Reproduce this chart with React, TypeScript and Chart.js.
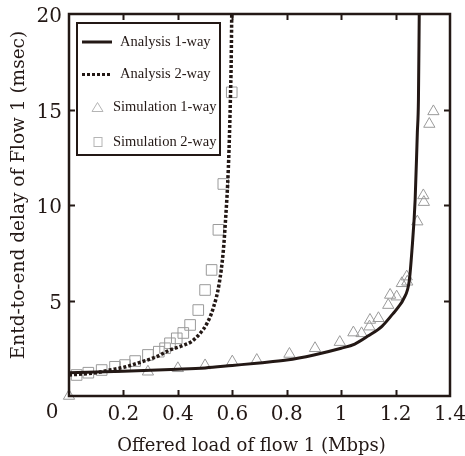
import { useEffect, useRef } from "react";
import { Chart, registerables } from "chart.js";

Chart.register(...registerables);

const INK = "#231815";
const MARK = "#9a9a9a";

// Analysis 1-way (solid curve)
const analysis1X = [0, 0.2, 0.4, 0.5, 0.6, 0.7, 0.8, 0.9, 1.0, 1.05, 1.1, 1.15, 1.19, 1.21, 1.23, 1.25, 1.26, 1.272, 1.28, 1.284, 1.287];
const analysis1Y = [1.22, 1.3, 1.4, 1.47, 1.6, 1.73, 1.88, 2.15, 2.5, 2.72, 3.15, 3.65, 4.3, 4.65, 5.1, 6.0, 7.6, 10.3, 13.8, 15.5, 20];

// Analysis 2-way (dotted curve)
const analysis2X = [0, 0.1, 0.15, 0.2, 0.27, 0.32, 0.37, 0.42, 0.45, 0.48, 0.507, 0.53, 0.552, 0.567, 0.576, 0.583, 0.588, 0.593, 0.596, 0.598];
const analysis2Y = [1.1, 1.22, 1.36, 1.5, 1.8, 2.05, 2.4, 2.65, 2.85, 3.25, 3.8, 4.6, 5.9, 7.6, 9.4, 11.1, 12.9, 15.5, 17.5, 20];

// Simulation 1-way (triangles)
const sim1X = [0, 0.29, 0.4, 0.5, 0.6, 0.69, 0.81, 0.904, 0.995, 1.045, 1.075, 1.104, 1.106, 1.137, 1.173, 1.18, 1.204, 1.223, 1.241, 1.243, 1.28, 1.302, 1.304, 1.324, 1.339];
const sim1Y = [0, 1.27, 1.45, 1.6, 1.8, 1.88, 2.2, 2.5, 2.82, 3.32, 3.28, 3.63, 3.98, 4.07, 4.76, 5.29, 5.2, 5.9, 6.25, 5.98, 9.13, 10.5, 10.15, 14.24, 14.9];

// Simulation 2-way (squares)
const sim2X = [0.028, 0.071, 0.12, 0.169, 0.206, 0.243, 0.29, 0.33, 0.353, 0.371, 0.396, 0.42, 0.445, 0.475, 0.5, 0.524, 0.549, 0.567, 0.598];
const sim2Y = [1.1, 1.22, 1.36, 1.53, 1.62, 1.83, 2.15, 2.32, 2.5, 2.76, 3.02, 3.3, 3.72, 4.5, 5.55, 6.6, 8.7, 11.1, 15.9];

const xTickValues = [0, 0.2, 0.4, 0.6, 0.8, 1.0, 1.2, 1.4];
const yTickValues = [0, 5, 10, 15, 20];

const seriesLabels = ["Analysis 1-way", "Analysis 2-way", "Simulation 1-way", "Simulation 2-way"];
const xTitle = "Offered load of flow 1 (Mbps)";
const yTitle = "Entd-to-end delay of Flow 1 (msec)";

const pts = (xs: number[], ys: number[]) => xs.map((x, i) => ({ x, y: ys[i] }));

const fmt = (v: number) => String(parseFloat(v.toFixed(1)));

const noOverflow = (s: any) => {
  s.paddingLeft = 0;
  s.paddingRight = 0;
  s.paddingTop = 0;
  s.paddingBottom = 0;
};

const framePlugin = {
  id: "frameAndLegend",
  afterDraw(chart: any) {
    const { ctx, chartArea: a, scales } = chart;
    const xs = scales.x;
    const ys = scales.y;
    ctx.save();
    // frame
    ctx.strokeStyle = INK;
    ctx.lineWidth = 2.5;
    ctx.strokeRect(a.left, a.top, a.right - a.left, a.bottom - a.top);
    // inward ticks on all sides
    ctx.lineWidth = 2;
    const tl = 6;
    ctx.beginPath();
    for (const v of xTickValues) {
      if (v <= xs.min || v >= xs.max) continue;
      const px = Math.round(xs.getPixelForValue(v)) + 0.5;
      ctx.moveTo(px, a.bottom);
      ctx.lineTo(px, a.bottom - tl);
      ctx.moveTo(px, a.top);
      ctx.lineTo(px, a.top + tl);
    }
    for (const v of yTickValues) {
      if (v <= ys.min || v >= ys.max) continue;
      const py = Math.round(ys.getPixelForValue(v)) + 0.5;
      ctx.moveTo(a.left, py);
      ctx.lineTo(a.left + tl, py);
      ctx.moveTo(a.right, py);
      ctx.lineTo(a.right - tl, py);
    }
    ctx.stroke();

    // the shared "0" label at the origin
    ctx.fillStyle = INK;
    ctx.font = '20px "DejaVu Serif"';
    ctx.textAlign = "center";
    ctx.textBaseline = "middle";
    ctx.fillText(fmt(0), xs.getPixelForValue(0) - 17, a.bottom + 17);

    // axis titles
    ctx.font = '18px "DejaVu Serif"';
    ctx.fillText(xTitle, (a.left + a.right) / 2 - 8, a.bottom + 50);
    ctx.save();
    ctx.translate(19, (a.top + a.bottom) / 2 - 10);
    ctx.rotate(-Math.PI / 2);
    ctx.font = '18.5px "DejaVu Serif"';
    ctx.fillText(yTitle, 0, 0);
    ctx.restore();

    // legend
    const bx = a.left + 8;
    const by = a.top + 9;
    const bw = 143;
    const bh = 132;
    ctx.fillStyle = "#ffffff";
    ctx.fillRect(bx, by, bw, bh);
    ctx.strokeStyle = INK;
    ctx.lineWidth = 2;
    ctx.strokeRect(bx, by, bw, bh);
    const rows = [19, 51.5, 84.5, 119];
    // solid sample
    ctx.lineWidth = 3;
    ctx.beginPath();
    ctx.moveTo(bx + 5, by + rows[0]);
    ctx.lineTo(bx + 35, by + rows[0]);
    ctx.stroke();
    // dotted sample
    ctx.setLineDash([3, 2]);
    ctx.beginPath();
    ctx.moveTo(bx + 5, by + rows[1]);
    ctx.lineTo(bx + 34, by + rows[1]);
    ctx.stroke();
    ctx.setLineDash([]);
    // triangle sample
    ctx.strokeStyle = "#b5b5b5";
    ctx.lineWidth = 1;
    const tx = bx + 20.5;
    const ty = by + rows[2];
    ctx.beginPath();
    ctx.moveTo(tx, ty - 5);
    ctx.lineTo(tx + 5.5, ty + 4);
    ctx.lineTo(tx - 5.5, ty + 4);
    ctx.closePath();
    ctx.stroke();
    // square sample
    ctx.strokeRect(bx + 17, by + rows[3] - 4.5, 8, 9);
    // texts
    ctx.fillStyle = INK;
    ctx.font = '14.5px "Liberation Serif"';
    ctx.textAlign = "left";
    ctx.fillText(seriesLabels[0], bx + 43, by + rows[0]);
    ctx.fillText(seriesLabels[1], bx + 43, by + rows[1]);
    ctx.fillText(seriesLabels[2], bx + 36, by + rows[2]);
    ctx.fillText(seriesLabels[3], bx + 36, by + rows[3]);
    ctx.restore();
  },
};

export default function App() {
  const ref = useRef<HTMLCanvasElement | null>(null);
  useEffect(() => {
    if (!ref.current) return;
    const chart = new Chart(ref.current, {
      type: "scatter",
      data: {
        datasets: [
          {
            label: seriesLabels[0],
            data: pts(analysis1X, analysis1Y),
            showLine: true,
            borderColor: INK,
            borderWidth: 3,
            pointRadius: 0,
            cubicInterpolationMode: "monotone",
            order: 1,
          },
          {
            label: seriesLabels[1],
            data: pts(analysis2X, analysis2Y),
            showLine: true,
            borderColor: INK,
            borderWidth: 3.5,
            borderDash: [3, 2],
            pointRadius: 0,
            cubicInterpolationMode: "monotone",
            order: 2,
          },
          {
            label: seriesLabels[2],
            data: pts(sim1X, sim1Y),
            showLine: false,
            pointStyle: "triangle",
            pointRadius: 6.5,
            borderColor: MARK,
            backgroundColor: "rgba(0,0,0,0)",
            borderWidth: 1,
            clip: false,
            order: 3,
          },
          {
            label: seriesLabels[3],
            data: pts(sim2X, sim2Y),
            showLine: false,
            pointStyle: "rect",
            pointRadius: 7.5,
            borderColor: MARK,
            backgroundColor: "rgba(0,0,0,0)",
            borderWidth: 1,
            order: 4,
          },
        ],
      } as any,
      options: {
        animation: false,
        responsive: false,
        layout: { padding: { left: 0, top: 14, right: 15, bottom: 0 } },
        plugins: { legend: { display: false }, tooltip: { enabled: false } },
        scales: {
          x: {
            type: "linear",
            min: 0,
            max: 1.4,
            afterFit: (s: any) => {
              s.height = 60;
              noOverflow(s);
            },
            afterBuildTicks: (s: any) => {
              s.ticks = xTickValues.map((v) => ({ value: v }));
            },
            grid: { display: false, drawTicks: false },
            border: { display: false },
            ticks: {
              color: INK,
              padding: 7,
              maxRotation: 0,
              autoSkip: false,
              font: { family: "DejaVu Serif", size: 20 },
              callback: (v: any) => (Number(v) === 0 ? "" : fmt(Number(v))),
            },
          },
          y: {
            type: "linear",
            min: 0,
            max: 20,
            afterFit: (s: any) => {
              s.width = 69;
              noOverflow(s);
            },
            afterBuildTicks: (s: any) => {
              s.ticks = yTickValues.map((v) => ({ value: v }));
            },
            grid: { display: false, drawTicks: false },
            border: { display: false },
            ticks: {
              color: INK,
              padding: 7,
              labelOffset: 3,
              autoSkip: false,
              font: { family: "DejaVu Serif", size: 20 },
              callback: (v: any) => (Number(v) === 0 ? "" : fmt(Number(v))),
            },
          },
        },
      },
      plugins: [framePlugin],
    });
    return () => chart.destroy();
  }, []);
  return (
    <div style={{ position: "fixed", left: 0, top: 0, width: 465, height: 456, background: "#fff" }}>
      <canvas ref={ref} width={465} height={456} style={{ display: "block" }} />
    </div>
  );
}
